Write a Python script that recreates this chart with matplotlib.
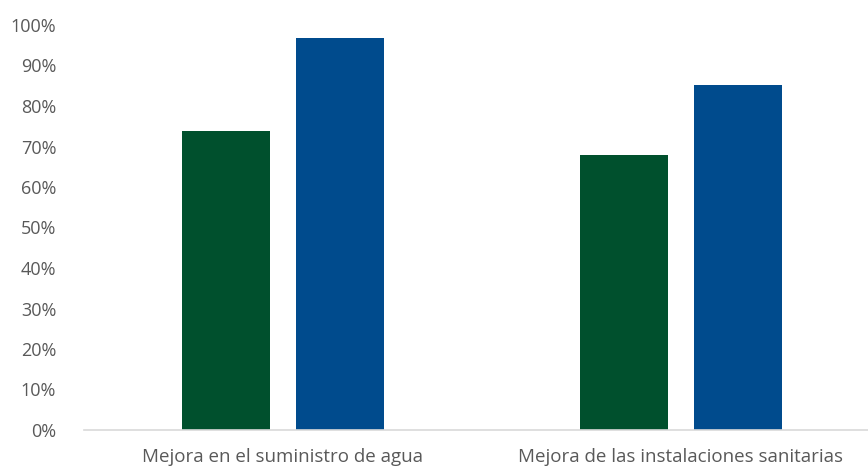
import matplotlib
matplotlib.use('Agg')
import matplotlib.pyplot as plt
import numpy as np
from matplotlib.ticker import PercentFormatter

categories = ['Mejora en el suministro de agua', 'Mejora de las instalaciones sanitarias']
green_vals = [0.738, 0.679]
blue_vals = [0.968, 0.852]

plt.rcParams['font.family'] = ['Open Sans', 'DejaVu Sans']

fig = plt.figure(figsize=(8.68, 4.70), dpi=100)
ax = fig.add_axes([84 / 868, 40 / 470, 796 / 868, 405 / 470])

x = np.arange(len(categories))
w = 0.22
off = 0.143
ax.bar(x - off, green_vals, w, color='#00502D')
ax.bar(x + off, blue_vals, w, color='#004B8D')

ax.set_xlim(-0.5, 1.5)
ax.set_ylim(0, 1)
ax.set_yticks(np.arange(0, 1.01, 0.1))
ax.yaxis.set_major_formatter(PercentFormatter(1.0, decimals=0))
ax.set_xticks(x)
ax.set_xticklabels(categories)

for s in ['top', 'right', 'left']:
    ax.spines[s].set_visible(False)
ax.spines['bottom'].set_color('#D9D9D9')
ax.spines['bottom'].set_linewidth(1.2)
ax.tick_params(axis='both', length=0, labelsize=13, colors='#595959')
ax.tick_params(axis='x', pad=13, labelsize=13.5)
ax.tick_params(axis='y', pad=20)

fig.savefig('out.png', dpi=100)
